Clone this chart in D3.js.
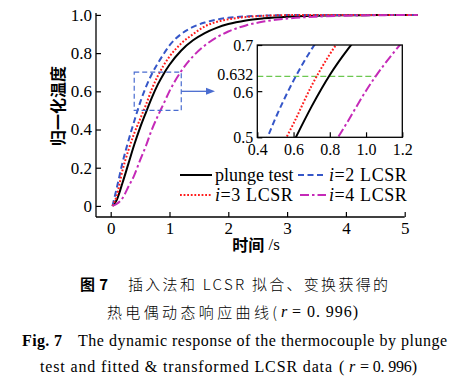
<!DOCTYPE html>
<html><head><meta charset="utf-8">
<script src="https://cdn.jsdelivr.net/npm/d3@7"></script>
<style>
html,body{margin:0;padding:0;background:#fff;}
svg{display:block;}
.serif{font-family:"Liberation Serif","Times New Roman",serif;}
.cjk{font-family:"Noto Sans CJK SC",sans-serif;}
</style></head>
<body><svg id="chart" width="468" height="380"></svg>
<script>
// ---------- data ----------
const times  = [0.03,0.1,0.2,0.3,0.4,0.5,0.6,0.7,0.8,0.9,1.0,1.2,1.4,1.6,1.8,2.0,2.3,2.6,3.0,3.5,4.0,4.5,5.0,5.22];
const plunge = [0,0.03,0.12,0.22,0.32,0.41,0.49,0.567,0.635,0.691,0.739,0.814,0.867,0.905,0.932,0.952,0.971,0.982,0.991,0.996,0.998,0.999,1,1];
const lcsr2  = [0,0.09,0.225,0.34,0.443,0.541,0.623,0.691,0.746,0.795,0.84,0.9,0.937,0.96,0.975,0.985,0.992,0.996,0.999,1,1,1,1,1];
const lcsr3  = [0,0.05,0.185,0.29,0.38,0.455,0.53,0.612,0.68,0.736,0.782,0.851,0.899,0.94,0.963,0.977,0.989,0.995,0.999,1,1,1,1,1];
const lcsr4  = [0,0.01,0.04,0.1,0.16,0.24,0.315,0.4,0.47,0.535,0.601,0.706,0.783,0.84,0.882,0.913,0.945,0.965,0.981,0.991,0.996,0.998,1,1];
const xTicks = [0,1,2,3,4,5];
const yTicks = [0,0.2,0.4,0.6,0.8,1.0];
const insetXTicks = [0.4,0.6,0.8,1.0,1.2];
const insetYTicks = [0.5,0.6,0.632,0.7];
const refLevel = 0.632;
const seriesNames = ["plunge test","i=2 LCSR","i=3 LCSR","i=4 LCSR"];

const SERIF = "Liberation Serif, Times New Roman, serif";
const styles = [
  {color:"#000000", dash:null},
  {color:"#3556c8", dash:"6,3.5"},
  {color:"#ff1c1c", dash:"1.8,1.8"},
  {color:"#c52ab8", dash:"9,3,2.5,3"}
];
const series = [plunge,lcsr2,lcsr3,lcsr4].map((v,i)=>({name:seriesNames[i],pts:times.map((t,j)=>[t,v[j]]),style:styles[i]}));

const svg = d3.select("#chart");

// ---------- main scales ----------
const x = d3.scaleLinear().domain([-0.25,5]).range([96,404.7]);
const y = d3.scaleLinear().domain([-0.058,1.01]).range([217,13]);

const xAxis = d3.axisBottom(x).tickValues(xTicks).tickSize(-5).tickPadding(5).tickFormat(d3.format("d"));
const yAxis = d3.axisLeft(y).tickValues(yTicks).tickSize(-5).tickPadding(4).tickFormat(d=>d===0?"0":d3.format(".1f")(d));

const gx = svg.append("g").attr("transform","translate(0,217)").call(xAxis);
const gy = svg.append("g").attr("transform","translate(96,0)").call(yAxis);
[gx,gy].forEach(g=>{
  g.attr("font-family",SERIF).attr("font-size",17);
  g.select(".domain").attr("stroke","#000").attr("stroke-width",1.3);
  g.selectAll(".tick line").attr("stroke","#000").attr("stroke-width",1.2);
  g.selectAll(".tick text").attr("font-family",SERIF).attr("font-size",17).attr("fill","#000");
});
gx.select(".domain").attr("d","M96,0H404.7");
gy.select(".domain").attr("d","M0,217V13");

// curves
const line = d3.line().x(d=>x(d[0])).y(d=>y(d[1])).curve(d3.curveMonotoneX);
series.forEach(s=>{
  svg.append("path").attr("d",line(s.pts)).attr("fill","none")
    .attr("stroke",s.style.color).attr("stroke-width",2)
    .attr("stroke-dasharray",s.style.dash);
});

// zoom box in main plot
svg.append("rect")
  .attr("x",x(0.4)).attr("y",y(0.7))
  .attr("width",x(1.2)-x(0.4)).attr("height",y(0.5)-y(0.7))
  .attr("fill","none").attr("stroke","#4a6cd0").attr("stroke-width",1.2)
  .attr("stroke-dasharray","5,3");

// ---------- inset ----------
const ix = d3.scaleLinear().domain([0.4,1.2]).range([257.3,402.3]);
const iy = d3.scaleLinear().domain([0.5,0.7]).range([137.3,45]);

// arrow
svg.append("line").attr("x1",x(1.2)).attr("x2",206).attr("y1",y(0.6)).attr("y2",y(0.6))
  .attr("stroke","#4a6cd0").attr("stroke-width",1.3);
svg.append("path").attr("d",`M${206},${y(0.6)-3.5}L${215},${y(0.6)}L${206},${y(0.6)+3.5}Z`).attr("fill","#4a6cd0");

svg.append("clipPath").attr("id","insetClip").append("rect")
  .attr("x",ix(0.4)).attr("y",iy(0.7)).attr("width",ix(1.2)-ix(0.4)).attr("height",iy(0.5)-iy(0.7));

svg.append("rect").attr("x",ix(0.4)).attr("y",iy(0.7)).attr("width",ix(1.2)-ix(0.4)).attr("height",iy(0.5)-iy(0.7))
  .attr("fill","#fff").attr("stroke","none");

const ig = svg.append("g").attr("clip-path","url(#insetClip)");
ig.append("line").attr("x1",ix(0.4)).attr("x2",ix(1.05)).attr("y1",iy(refLevel)).attr("y2",iy(refLevel))
  .attr("stroke","#6cc850").attr("stroke-width",1.2).attr("stroke-dasharray","6,3");
const iline = d3.line().x(d=>ix(d[0])).y(d=>iy(d[1])).curve(d3.curveMonotoneX);
series.forEach(s=>{
  ig.append("path").attr("d",iline(s.pts)).attr("fill","none")
    .attr("stroke",s.style.color).attr("stroke-width",2)
    .attr("stroke-dasharray",s.style.dash);
});

const ixAxis = d3.axisBottom(ix).tickValues(insetXTicks).tickSize(-5).tickPadding(6).tickFormat(d3.format(".1f"));
const iyAxis = d3.axisLeft(iy).tickValues(insetYTicks).tickSize(-5).tickPadding(4).tickFormat(d=>d===0.632?"0.632":d3.format(".1f")(d));
const gix = svg.append("g").attr("transform",`translate(0,${iy(0.5)})`).call(ixAxis);
const giy = svg.append("g").attr("transform",`translate(${ix(0.4)},0)`).call(iyAxis);
[gix,giy].forEach(g=>{
  g.attr("font-family",SERIF).attr("font-size",16);
  g.select(".domain").remove();
  g.selectAll(".tick line").attr("stroke","#000").attr("stroke-width",1.2);
  g.selectAll(".tick text").attr("font-family",SERIF).attr("font-size",16).attr("fill","#000");
});
giy.selectAll(".tick").filter(d=>d===0.632).select("line").remove();
giy.selectAll(".tick").filter(d=>d===0.632).select("text").attr("dy","0.22em");
giy.selectAll(".tick").filter(d=>d===0.6).select("text").attr("dy","0.42em");
svg.append("rect").attr("x",ix(0.4)).attr("y",iy(0.7)).attr("width",ix(1.2)-ix(0.4)).attr("height",iy(0.5)-iy(0.7))
  .attr("fill","none").attr("stroke","#000").attr("stroke-width",1.3);

// ---------- legend ----------
const legend = [
  {x1:180,x2:212,tx:215,ty:175},
  {x1:298,x2:326,tx:329,ty:175},
  {x1:180,x2:212,tx:215,ty:195},
  {x1:300,x2:326,tx:329,ty:195}
];
series.forEach((s,i)=>{
  const L = legend[i];
  svg.append("line").attr("x1",L.x1).attr("x2",L.x2).attr("y1",L.ty).attr("y2",L.ty)
    .attr("stroke",s.style.color).attr("stroke-width",2).attr("stroke-dasharray",s.style.dash);
  const t = svg.append("text").attr("font-family",SERIF).attr("x",L.tx).attr("y",L.ty).attr("dy","0.35em").attr("font-size",18).attr("fill","#000");
  if (s.name.startsWith("i=")) {
    t.attr("letter-spacing",0.6);
    t.append("tspan").attr("font-style","italic").text("i");
    t.append("tspan").text("=" + s.name.slice(2));
  } else t.text(s.name);
});

// ---------- axis titles ----------
svg.append("text").attr("class","cjk").attr("font-size",16).attr("font-weight",700)
  .attr("transform","translate(57,106) rotate(-90)").attr("text-anchor","middle").attr("dominant-baseline","central")
  .text("归一化温度");
const xt = svg.append("text").attr("x",256).attr("y",244).attr("text-anchor","middle").attr("dominant-baseline","central").attr("font-size",16);
xt.append("tspan").attr("class","cjk").attr("font-weight",700).text("时间");
xt.append("tspan").attr("font-family",SERIF).attr("font-size",17).text(" /s");

// ---------- caption ----------
function txt(s,xx,yy,opts){
  const t = svg.append("text").attr("x",xx).attr("y",yy).attr("dominant-baseline","central").text(s);
  Object.entries(opts).forEach(([k,v])=>t.attr(k,v));
  return t;
}
txt("图 7",80,283,{class:"cjk","font-size":15,"font-weight":700,textLength:28,lengthAdjust:"spacing"});
txt("插入法和 LCSR 拟合、变换获得的",128,283,{class:"cjk","font-size":15,"font-weight":300,textLength:260,lengthAdjust:"spacing"});
txt("热电偶动态响应曲线(",107,311.5,{class:"cjk","font-size":15,"font-weight":300,textLength:170,lengthAdjust:"spacing"});
txt("r",281,311.5,{"font-family":SERIF,"font-size":16,"font-style":"italic"});
txt("= 0. 996)",292,311.5,{"font-family":SERIF,"font-size":16,textLength:66,lengthAdjust:"spacing"});
txt("Fig. 7",22,340,{"font-family":SERIF,"font-size":16,"font-weight":700,textLength:40,lengthAdjust:"spacing"});
txt("The dynamic response of the thermocouple by plunge",78,340,{"font-family":SERIF,"font-size":16,textLength:369,lengthAdjust:"spacing"});
txt("test and fitted & transformed LCSR data",40,366.5,{"font-family":SERIF,"font-size":16,textLength:292,lengthAdjust:"spacing"});
txt("(",339,366.5,{"font-family":SERIF,"font-size":16});
txt("r",349,366.5,{"font-family":SERIF,"font-size":16,"font-style":"italic"});
txt("= 0. 996)",360,366.5,{"font-family":SERIF,"font-size":16,textLength:57,lengthAdjust:"spacing"});
</script></body></html>
